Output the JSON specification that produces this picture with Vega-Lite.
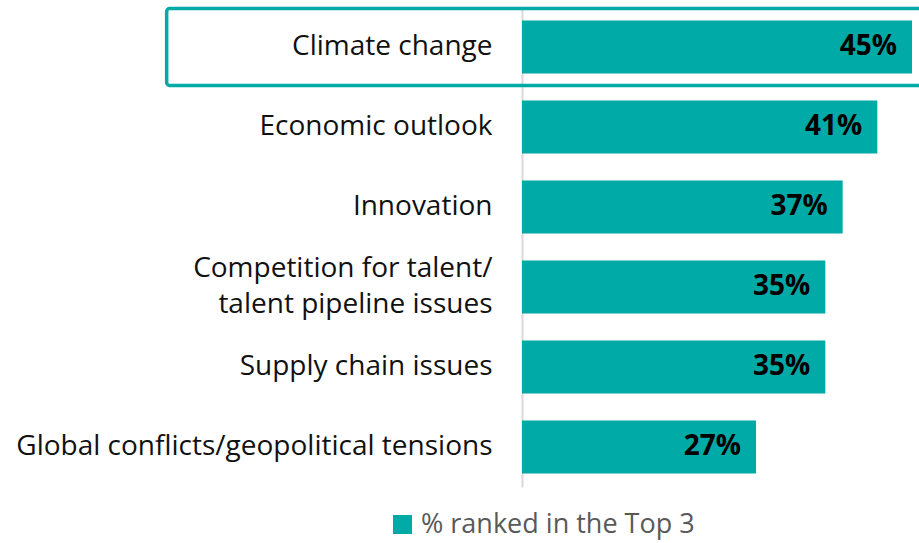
{
  "$schema": "https://vega.github.io/schema/vega-lite/v6.json",
  "autosize": {"type": "none"},
  "padding": {"left": 522, "top": 7, "right": 7, "bottom": 56},
  "width": 390,
  "height": 480,
  "background": "white",
  "config": {"view": {"stroke": null}, "font": "Open Sans"},
  "data": {
    "values": [
      {"issue": "Climate change", "value": 45, "series": "% ranked in the Top 3"},
      {"issue": "Economic outlook", "value": 41, "series": "% ranked in the Top 3"},
      {"issue": "Innovation", "value": 37, "series": "% ranked in the Top 3"},
      {"issue": "Competition for talent/|talent pipeline issues", "value": 35, "series": "% ranked in the Top 3"},
      {"issue": "Supply chain issues", "value": 35, "series": "% ranked in the Top 3"},
      {"issue": "Global conflicts/geopolitical tensions", "value": 27, "series": "% ranked in the Top 3"}
    ]
  },
  "encoding": {
    "y": {
      "field": "issue", "type": "nominal", "sort": null, "title": null,
      "scale": {"paddingInner": 0, "paddingOuter": 0},
      "axis": {
        "ticks": false, "domainColor": "#d9d9d9", "domainWidth": 2,
        "labelPadding": 30, "labelFontSize": 28, "labelColor": "#111111",
        "labelLimit": 700, "labelLineHeight": 36,
        "labelOffset": {"condition": {"test": "indexof(datum.value, '|') >= 0", "value": -18}, "value": 0},
        "labelExpr": "split(datum.label, '|')"
      }
    }
  },
  "layer": [
    {
      "mark": {"type": "bar", "height": {"band": 0.66}},
      "encoding": {
        "x": {"field": "value", "type": "quantitative", "scale": {"domain": [0, 45]}, "axis": null},
        "color": {
          "field": "series", "type": "nominal", "scale": {"range": ["#00AAA6"]},
          "legend": {
            "orient": "none", "legendX": -133, "legendY": 504, "title": null,
            "symbolType": "square", "symbolSize": 361, "symbolStrokeWidth": 0,
            "labelFontSize": 27, "labelColor": "#595959", "labelOffset": 5, "labelLimit": 500
          }
        }
      }
    },
    {
      "transform": [{"calculate": "datum.value + '%'", "as": "lbl"}],
      "mark": {"type": "text", "align": "right", "dx": -15, "fontSize": 28, "fontWeight": "bold", "color": "#000000"},
      "encoding": {
        "x": {"field": "value", "type": "quantitative"},
        "text": {"field": "lbl", "type": "nominal"}
      }
    },
    {
      "transform": [{"filter": "datum.issue === 'Climate change'"}],
      "mark": {"type": "bar", "fillOpacity": 0, "stroke": "#00AAA6", "strokeWidth": 3.5, "cornerRadius": 3, "height": {"band": 0.96}},
      "encoding": {
        "x": {"datum": -41},
        "x2": {"datum": 47.5}
      }
    }
  ]
}
